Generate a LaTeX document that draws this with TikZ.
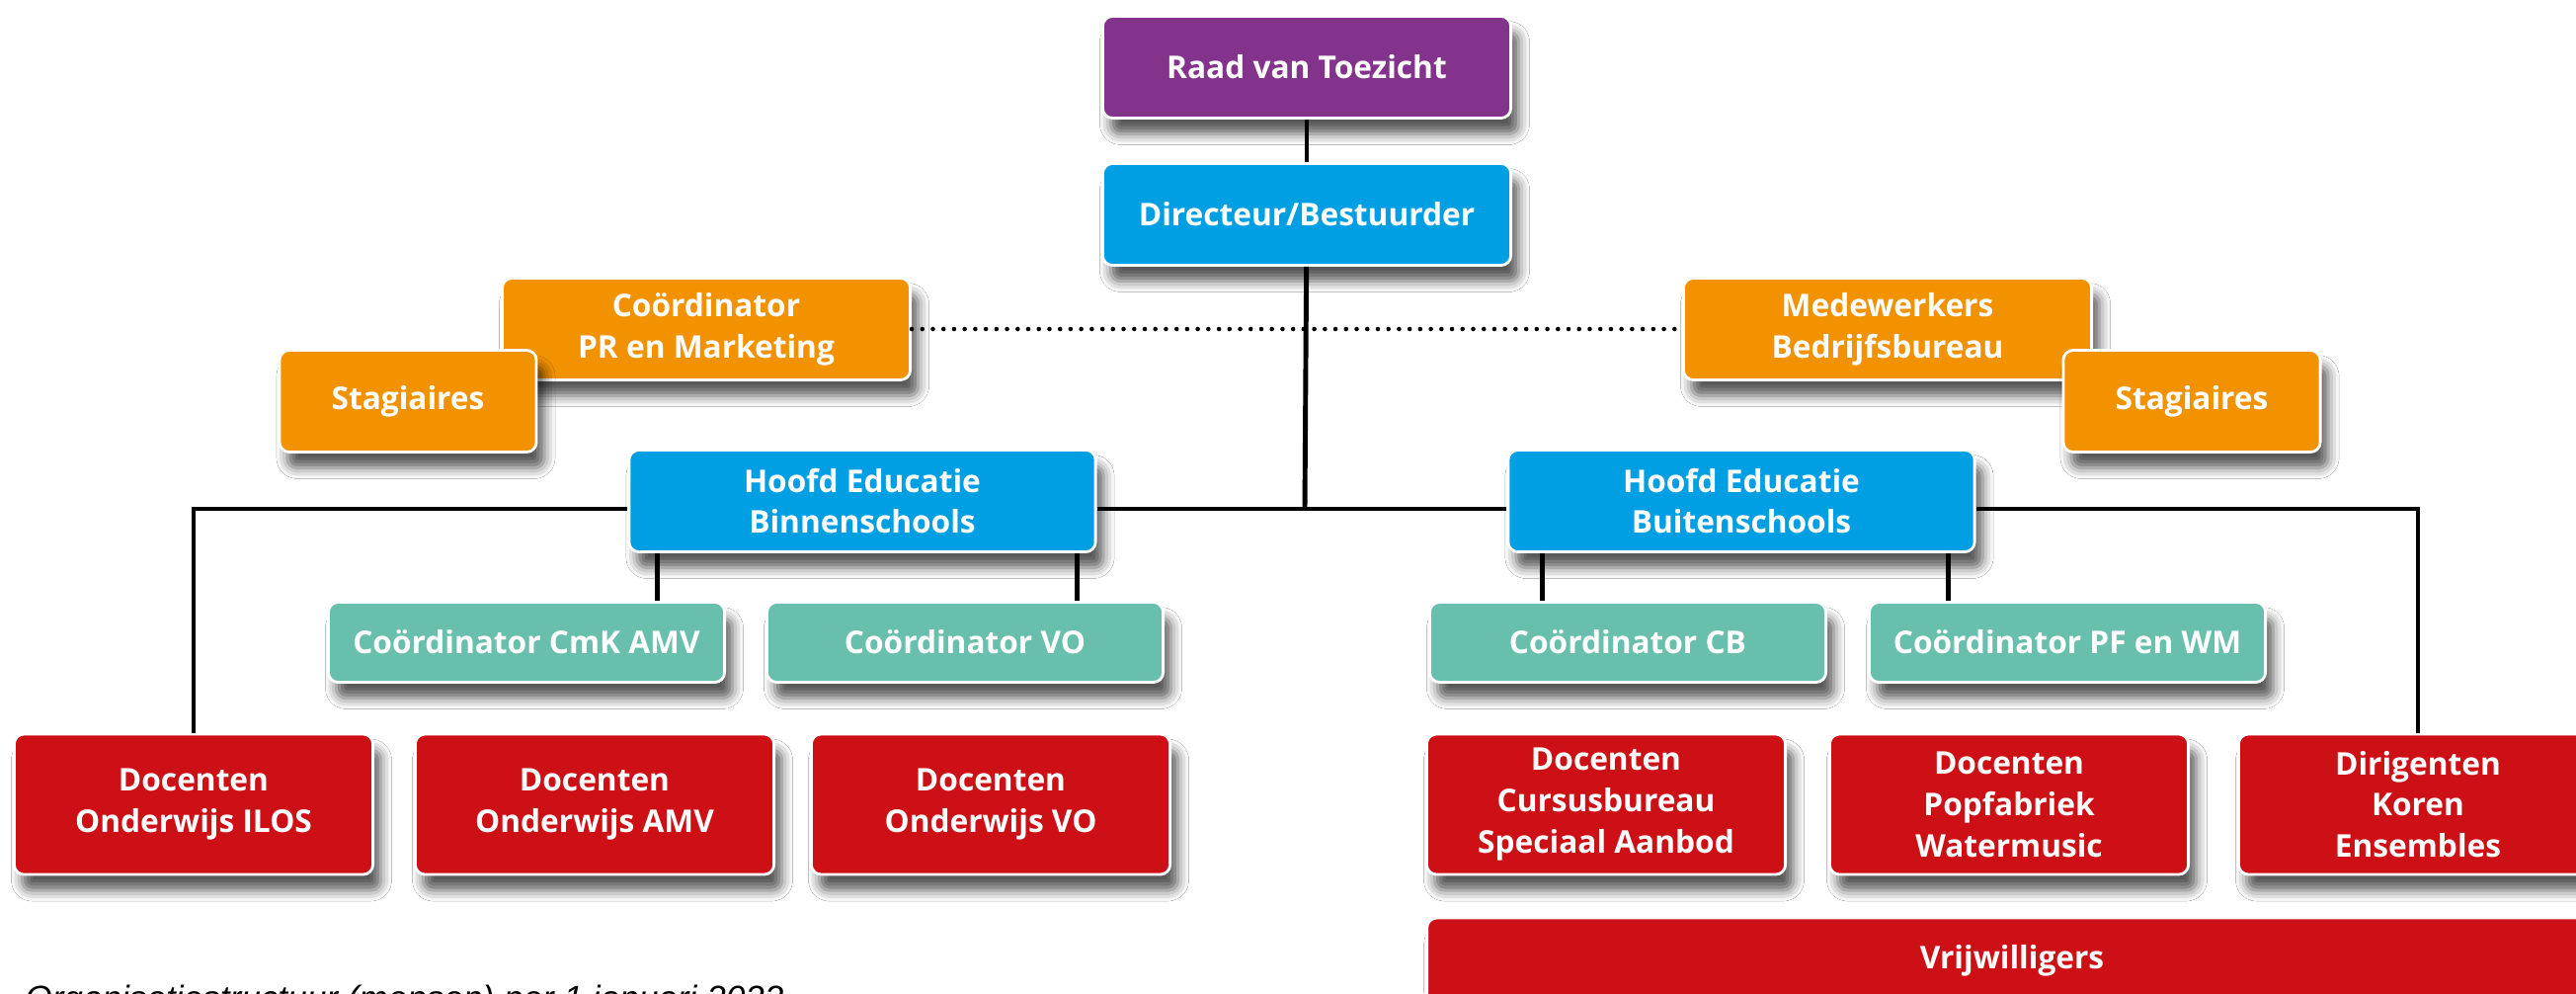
\documentclass[tikz,border=0pt]{standalone}
\usepackage{fontspec}
\setmainfont{Open Sans}
\newfontfamily\captionfont{Liberation Sans}
\usetikzlibrary{shadows.blur}
\definecolor{raadpurple}{RGB}{131,51,139}
\definecolor{dirblue}{RGB}{0,159,227}
\definecolor{staforange}{RGB}{243,146,0}
\definecolor{coordteal}{RGB}{104,191,171}
\definecolor{docred}{RGB}{204,16,22}

\begin{document}
\begin{tikzpicture}[x=0.01cm,y=-0.01cm]
\tikzstyle{block} = [rectangle, draw=white, line width=0.8pt, rounded corners=0.1cm, text=white, align=center, inner sep=0pt, font=\fontsize{9}{11.9}\selectfont\bfseries, blur shadow={shadow xshift=0.08cm, shadow yshift=-0.16cm, shadow blur radius=0.11cm, shadow opacity=65}]
\tikzstyle{topbox} = [block, minimum width=4.13cm, minimum height=1.03cm]
\tikzstyle{stagbox} = [block, fill=staforange, minimum width=2.6cm, minimum height=1.03cm]
\tikzstyle{headbox} = [block, fill=dirblue, minimum width=4.72cm, minimum height=1.03cm]
\tikzstyle{coordbox} = [block, fill=coordteal, minimum width=4.01cm, minimum height=0.81cm]
\tikzstyle{docbox} = [block, fill=docred, minimum width=3.63cm, minimum height=1.42cm]
\tikzstyle{line} = [line width=1.4pt]
\tikzstyle{dotline} = [line width=1.3pt, line cap=round, dash pattern=on 0pt off 3.05pt]

\path[use as bounding box, fill=white] (0,0) rectangle (2608,1005);
\clip (0,0) rectangle (2608,1005);

\node at (1323,68) [topbox, fill=raadpurple] (raad) {Raad van Toezicht};
\node at (1323,217) [topbox, fill=dirblue] (dir) {Directeur/Bestuurder};

\node at (715,333) [topbox, fill=staforange] (pr) {Coördinator\\PR en Marketing};
\node at (413,406) [stagbox] (stagL) {Stagiaires};
\node at (1911,333) [topbox, fill=staforange] (mede) {Medewerkers\\Bedrijfsbureau};
\node at (2219,406) [stagbox] (stagR) {Stagiaires};

\node at (873,507) [headbox] (binnen) {Hoofd Educatie\\Binnenschools};
\node at (1763,507) [headbox] (buiten) {Hoofd Educatie\\Buitenschools};

\node at (533,650) [coordbox] (cmk) {Coördinator CmK AMV};
\node at (977,650) [coordbox] (covo) {Coördinator VO};
\node at (1648,650) [coordbox] (cb) {Coördinator CB};
\node at (2093,650) [coordbox] (pf) {Coördinator PF en WM};

\node at (196,814) [docbox] (ilos) {Docenten\\Onderwijs ILOS};
\node at (602,814) [docbox] (amv) {Docenten\\Onderwijs AMV};
\node at (1003,814) [docbox] (dvo) {Docenten\\Onderwijs VO};
\node at (1626,814) [docbox] (cursus) {Docenten\\Cursusbureau\\Speciaal Aanbod};
\node at (2034,814) [docbox] (pop) {Docenten\\Popfabriek\\Watermusic};
\node at (2448,814) [docbox] (dirig) {Dirigenten\\Koren\\Ensembles};

\node at (2037,972) [block, fill=docred, minimum width=11.84cm, minimum height=0.86cm] (vrij) {Vrijwilligers};

\node at (13,1022) [anchor=base west, font=\captionfont\itshape\fontsize{10}{12}\selectfont] (caption) {Organisatiestructuur (mensen) per 1 januari 2022};

\coordinate (hub) at (1321,515);
\draw[line] (raad) -- (dir);
\draw[line] (dir) -- (hub);
\draw[dotline] (pr.east) -- (mede.west);
\draw[line] (ilos.north) |- (binnen.west |- hub);
\draw[line] (binnen.east |- hub) -- (buiten.west |- hub);
\draw[line] (buiten.east |- hub) -| (dirig.north);

\draw[line] ([xshift=0.3cm]binnen.south west) -- ([xshift=0.3cm]binnen.south west |- cmk.north);
\draw[line] ([xshift=-0.2cm]binnen.south east) -- ([xshift=-0.2cm]binnen.south east |- covo.north);
\draw[line] ([xshift=0.36cm]buiten.south west) -- ([xshift=0.36cm]buiten.south west |- cb.north);
\draw[line] ([xshift=-0.28cm]buiten.south east) -- ([xshift=-0.28cm]buiten.south east |- pf.north);

\end{tikzpicture}
\end{document}
